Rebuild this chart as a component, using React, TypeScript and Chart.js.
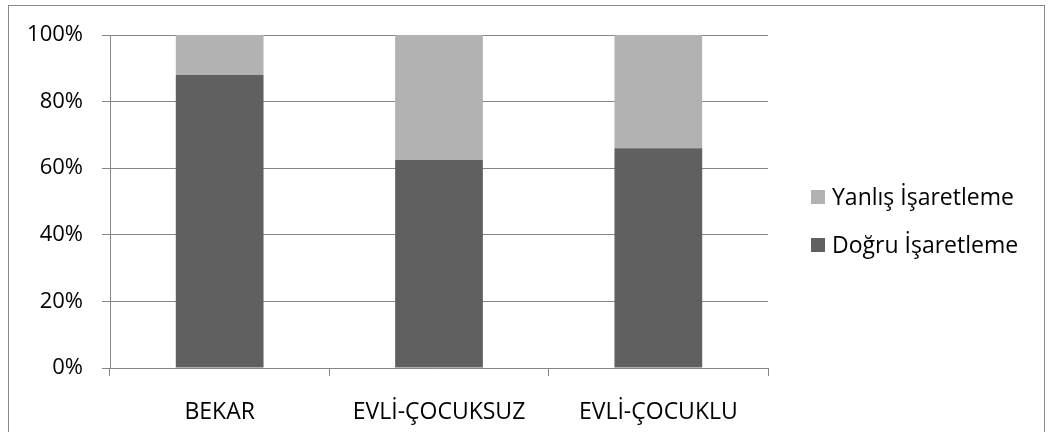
import React, { useEffect, useRef } from "react";
import { Chart, registerables } from "chart.js";

Chart.register(...registerables);

const categories = ["BEKAR", "EVLİ-ÇOCUKSUZ", "EVLİ-ÇOCUKLU"];
const dogruValues = [88, 62.5, 66];
const yanlisValues = [12, 37.5, 34];
const seriesNames = ["Doğru İşaretleme", "Yanlış İşaretleme"];
const seriesColors = ["#606060", "#b2b2b2"];
const yTickStep = 20;
const yMax = 100;

const FONT = "'Open Sans', sans-serif";
const FONT_SIZE = 23;
const Y_FONT_SIZE = 22;
const GRID = "#868686";

export default function App() {
  const ref = useRef<HTMLCanvasElement>(null);

  useEffect(() => {
    if (!ref.current) return;

    const framePlugin = {
      id: "frame",
      beforeDraw(chart: any) {
        const ctx = chart.ctx;
        ctx.save();
        ctx.fillStyle = "#ffffff";
        ctx.fillRect(0, 0, chart.width, chart.height);
        ctx.strokeStyle = "#8a8a8a";
        ctx.lineWidth = 1;
        ctx.strokeRect(8.5, 5.5, 1036, 440);
        ctx.restore();
      },
    };

    const sideLegend = {
      id: "sideLegend",
      afterDraw(chart: any) {
        const ctx = chart.ctx;
        const area = chart.chartArea;
        const ds = chart.data.datasets.slice().reverse();
        const boxX = area.right + 43;
        const startY = 197;
        const step = 48;
        const box = 14;
        ctx.save();
        ctx.font = `${FONT_SIZE}px ${FONT}`;
        ctx.textBaseline = "middle";
        ctx.textAlign = "left";
        ds.forEach((d: any, i: number) => {
          const cy = startY + i * step;
          ctx.fillStyle = d.backgroundColor;
          ctx.fillRect(boxX, cy - box / 2, box, box);
          ctx.fillStyle = "#000000";
          ctx.fillText(d.label, boxX + box + 7, cy + 1);
        });
        ctx.restore();
      },
    };

    const chart = new Chart(ref.current, {
      type: "bar",
      data: {
        labels: categories,
        datasets: [
          {
            label: seriesNames[0],
            data: dogruValues,
            backgroundColor: seriesColors[0],
            borderWidth: 0,
            categoryPercentage: 1,
            barPercentage: 0.4,
          },
          {
            label: seriesNames[1],
            data: yanlisValues,
            backgroundColor: seriesColors[1],
            borderWidth: 0,
            categoryPercentage: 1,
            barPercentage: 0.4,
          },
        ],
      },
      options: {
        responsive: false,
        animation: false,
        layout: { padding: { left: 0, top: 35, right: 285, bottom: 0 } },
        plugins: {
          legend: { display: false },
          tooltip: { enabled: false },
        },
        scales: {
          x: {
            stacked: true,
            offset: true,
            grid: {
              offset: true,
              drawOnChartArea: false,
              drawTicks: true,
              tickLength: 8,
              color: GRID,
            },
            border: { color: GRID, width: 1 },
            ticks: {
              color: "#000000",
              font: { family: FONT, size: FONT_SIZE },
              padding: 23,
              maxRotation: 0,
              autoSkip: false,
            },
            afterFit: (scale: any) => {
              scale.height = 64;
            },
          },
          y: {
            stacked: true,
            min: 0,
            max: yMax,
            grid: {
              color: GRID,
              drawTicks: true,
              tickLength: 8,
            },
            border: { color: GRID, width: 1 },
            ticks: {
              stepSize: yTickStep,
              color: "#000000",
              font: { family: FONT, size: Y_FONT_SIZE },
              padding: 19,
              callback: (v: any) => `${v}%`,
            },
            afterFit: (scale: any) => {
              scale.width = 110;
            },
          },
        },
      },
      plugins: [framePlugin, sideLegend],
    });

    return () => chart.destroy();
  }, []);

  return (
    <div style={{ position: "absolute", left: 0, top: 0, width: 1053, height: 432 }}>
      <canvas ref={ref} width={1053} height={432} style={{ width: 1053, height: 432, display: "block" }} />
    </div>
  );
}
